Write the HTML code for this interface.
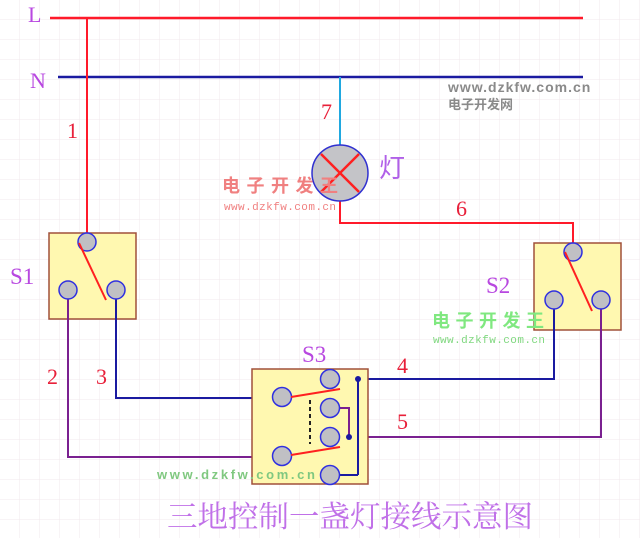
<!DOCTYPE html>
<html><head><meta charset="utf-8"><style>
html,body{margin:0;padding:0;background:#fff;}
svg{display:block;}
</style></head><body>
<svg width="640" height="538" xmlns="http://www.w3.org/2000/svg">
<defs>
<pattern id="g" width="20" height="20" patternUnits="userSpaceOnUse">
<path d="M20 0V20M0 20H20" fill="none" stroke="#f2e8ec" stroke-width="1"/>
</pattern>
</defs>
<rect width="640" height="538" fill="#fff"/>
<rect width="640" height="538" fill="url(#g)"/>

<text x="28" y="22" font-family="Liberation Serif,serif" font-size="22" fill="#b848e0">L</text>
<text x="30" y="88" font-family="Liberation Serif,serif" font-size="22" fill="#b848e0">N</text>
<line x1="50" y1="18" x2="583" y2="18" stroke="#ff1a2a" stroke-width="2.5"/>
<line x1="58" y1="77" x2="583" y2="77" stroke="#1a1aa0" stroke-width="2.5"/>

<line x1="87" y1="18" x2="87" y2="238" stroke="#ff1a2a" stroke-width="2"/>
<text x="67" y="138" font-family="Liberation Serif,serif" font-size="22" fill="#e8203a">1</text>

<line x1="340" y1="77" x2="340" y2="146" stroke="#20a8e0" stroke-width="2"/>
<text x="321" y="119" font-family="Liberation Serif,serif" font-size="22" fill="#e8203a">7</text>
<polyline points="340,200 340,223 573,223 573,246" fill="none" stroke="#ff1a2a" stroke-width="2"/>
<text x="456" y="216" font-family="Liberation Serif,serif" font-size="22" fill="#e8203a">6</text>
<circle cx="340" cy="173" r="28" fill="#c4c4c8" stroke="#3030d0" stroke-width="1.5"/>
<line x1="321" y1="154" x2="359" y2="192" stroke="#ff2020" stroke-width="2.5"/>
<line x1="359" y1="154" x2="321" y2="192" stroke="#ff2020" stroke-width="2.5"/>
<text x="379" y="177" font-family="Liberation Sans,Noto Sans CJK SC,sans-serif" font-size="26" fill="#b060e8">灯</text>

<text x="10" y="284" font-family="Liberation Serif,serif" font-size="23" fill="#b848e0">S1</text>
<rect x="49" y="233" width="87" height="86" fill="#fff8b0" stroke="#a0503a" stroke-width="1.5"/>
<polyline points="68,290 68,457 273,457" fill="none" stroke="#7a2090" stroke-width="2"/>
<polyline points="116,290 116,398 273,398" fill="none" stroke="#1a1aa0" stroke-width="2"/>
<circle cx="87" cy="242" r="9" fill="#c0c0c4" stroke="#3030e0" stroke-width="1.5"/>
<circle cx="68" cy="290" r="9" fill="#c0c0c4" stroke="#3030e0" stroke-width="1.5"/>
<circle cx="116" cy="290" r="9" fill="#c0c0c4" stroke="#3030e0" stroke-width="1.5"/>
<line x1="79" y1="243" x2="106" y2="300" stroke="#ff2020" stroke-width="2"/>
<text x="47" y="384" font-family="Liberation Serif,serif" font-size="22" fill="#e8203a">2</text>
<text x="96" y="384" font-family="Liberation Serif,serif" font-size="22" fill="#e8203a">3</text>

<text x="486" y="293" font-family="Liberation Serif,serif" font-size="23" fill="#b848e0">S2</text>
<rect x="534" y="243" width="87" height="87" fill="#fff8b0" stroke="#a0503a" stroke-width="1.5"/>
<polyline points="554,300 554,379 339,379" fill="none" stroke="#1a1aa0" stroke-width="2"/>
<polyline points="601,300 601,437 339,437" fill="none" stroke="#7a2090" stroke-width="2"/>
<circle cx="573" cy="252" r="9" fill="#c0c0c4" stroke="#3030e0" stroke-width="1.5"/>
<circle cx="554" cy="300" r="9" fill="#c0c0c4" stroke="#3030e0" stroke-width="1.5"/>
<circle cx="601" cy="300" r="9" fill="#c0c0c4" stroke="#3030e0" stroke-width="1.5"/>
<line x1="565" y1="252" x2="592" y2="311" stroke="#ff2020" stroke-width="2"/>

<text x="302" y="362" font-family="Liberation Serif,serif" font-size="23" fill="#b848e0">S3</text>
<rect x="252" y="369" width="116" height="115" fill="#fff8b0" stroke="#a0503a" stroke-width="1.5"/>
<line x1="358" y1="379" x2="358" y2="475" stroke="#1a1aa0" stroke-width="2"/>
<line x1="358" y1="475" x2="339" y2="475" stroke="#1a1aa0" stroke-width="2"/>
<polyline points="339,408 349,408 349,437" fill="none" stroke="#7a2090" stroke-width="2"/>
<circle cx="358" cy="379" r="3" fill="#1a1aa0"/>
<circle cx="349" cy="437" r="3" fill="#1a1aa0"/>
<circle cx="330" cy="379" r="9.5" fill="#c0c0c4" stroke="#3030e0" stroke-width="1.5"/>
<circle cx="330" cy="408" r="9.5" fill="#c0c0c4" stroke="#3030e0" stroke-width="1.5"/>
<circle cx="330" cy="437" r="9.5" fill="#c0c0c4" stroke="#3030e0" stroke-width="1.5"/>
<circle cx="330" cy="475" r="9.5" fill="#c0c0c4" stroke="#3030e0" stroke-width="1.5"/>
<circle cx="282" cy="397" r="9.5" fill="#c0c0c4" stroke="#3030e0" stroke-width="1.5"/>
<circle cx="282" cy="456" r="9.5" fill="#c0c0c4" stroke="#3030e0" stroke-width="1.5"/>
<line x1="291" y1="397" x2="340" y2="389" stroke="#ff2020" stroke-width="2"/>
<line x1="291" y1="455" x2="340" y2="447" stroke="#ff2020" stroke-width="2"/>
<line x1="310" y1="400" x2="310" y2="444" stroke="#222" stroke-width="2" stroke-dasharray="4,3"/>
<text x="397" y="373" font-family="Liberation Serif,serif" font-size="22" fill="#e8203a">4</text>
<text x="397" y="429" font-family="Liberation Serif,serif" font-size="22" fill="#e8203a">5</text>

<text x="448" y="92" font-family="Liberation Sans,sans-serif" font-size="14" font-weight="bold" fill="#8a8a8a" letter-spacing="1">www.dzkfw.com.cn</text>
<text x="448" y="109" font-family="Liberation Sans,Noto Sans CJK SC,sans-serif" font-size="13" font-weight="bold" fill="#8a8a8a">电子开发网</text>
<text x="222" y="192" font-family="Noto Sans CJK SC,sans-serif" font-size="18" font-weight="bold" fill="#f08080" textLength="116">电子开发王</text>
<text x="224" y="210" font-family="Liberation Mono,monospace" font-size="11" fill="#f08080" textLength="112">www.dzkfw.com.cn</text>
<text x="432" y="327" font-family="Noto Sans CJK SC,sans-serif" font-size="18" font-weight="bold" fill="#80e880" textLength="112">电子开发王</text>
<text x="433" y="343" font-family="Liberation Mono,monospace" font-size="11" fill="#80d880" textLength="112">www.dzkfw.com.cn</text>
<text x="157" y="479" font-family="Liberation Sans,sans-serif" font-size="13" font-weight="bold" fill="#80c880" textLength="158">www.dzkfw.com.cn</text>

<text x="167" y="527" font-family="Noto Serif CJK SC,serif" font-size="30" fill="#c070e8" textLength="366" lengthAdjust="spacingAndGlyphs">三地控制一盏灯接线示意图</text>
</svg>
</body></html>
